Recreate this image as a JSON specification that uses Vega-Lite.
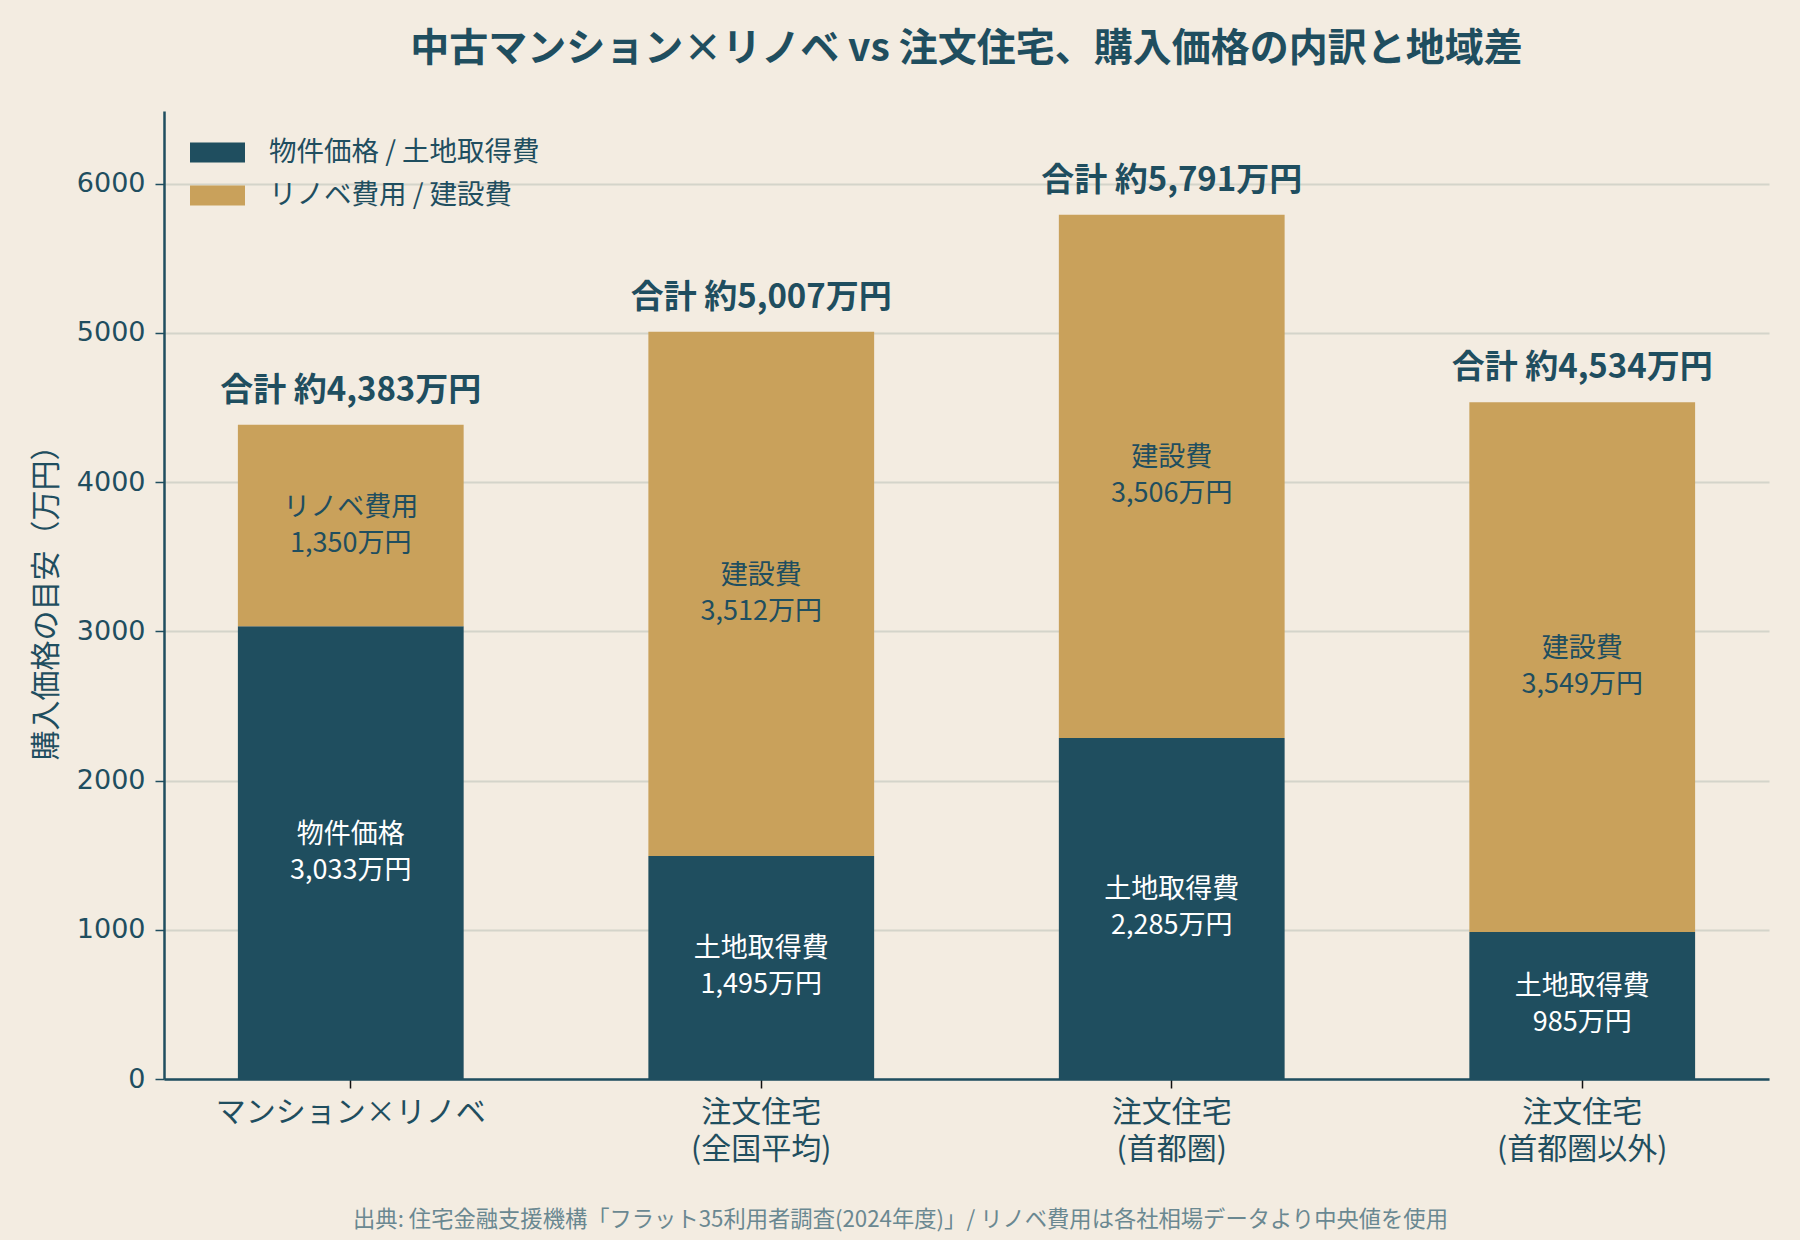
{
  "$schema": "https://vega.github.io/schema/vega-lite/v6.json",
  "width": 1605,
  "height": 968,
  "autosize": {"type": "none"},
  "padding": {"left": 164, "top": 111, "right": 31, "bottom": 161},
  "background": "#f3ece1",
  "title": {
    "text": "中古マンション×リノベ vs 注文住宅、購入価格の内訳と地域差",
    "anchor": "middle",
    "frame": "group",
    "font": "Noto Sans CJK JP",
    "fontSize": 39,
    "fontWeight": "bold",
    "color": "#1f4e5f",
    "offset": 42
  },
  "config": {
    "view": {"stroke": null},
    "font": "Noto Sans CJK JP"
  },
  "data": {
    "values": [
      {"cat": "マンション×リノベ", "type": "物件価格 / 土地取得費", "part": "物件価格", "value": 3033, "order": 1},
      {"cat": "マンション×リノベ", "type": "リノベ費用 / 建設費", "part": "リノベ費用", "value": 1350, "order": 2},
      {"cat": "注文住宅\n(全国平均)", "type": "物件価格 / 土地取得費", "part": "土地取得費", "value": 1495, "order": 1},
      {"cat": "注文住宅\n(全国平均)", "type": "リノベ費用 / 建設費", "part": "建設費", "value": 3512, "order": 2},
      {"cat": "注文住宅\n(首都圏)", "type": "物件価格 / 土地取得費", "part": "土地取得費", "value": 2285, "order": 1},
      {"cat": "注文住宅\n(首都圏)", "type": "リノベ費用 / 建設費", "part": "建設費", "value": 3506, "order": 2},
      {"cat": "注文住宅\n(首都圏以外)", "type": "物件価格 / 土地取得費", "part": "土地取得費", "value": 985, "order": 1},
      {"cat": "注文住宅\n(首都圏以外)", "type": "リノベ費用 / 建設費", "part": "建設費", "value": 3549, "order": 2}
    ]
  },
  "transform": [
    {"stack": "value", "groupby": ["cat"], "sort": [{"field": "order"}], "as": ["y0", "y1"]},
    {"calculate": "(datum.y0 + datum.y1) / 2", "as": "mid"},
    {"calculate": "format(datum.value, ',') + '万円'", "as": "vlabel"},
    {"calculate": "'合計 約' + format(datum.y1, ',') + '万円'", "as": "tlabel"}
  ],
  "encoding": {
    "x": {
      "field": "cat",
      "type": "nominal",
      "sort": ["マンション×リノベ", "注文住宅\n(全国平均)", "注文住宅\n(首都圏)", "注文住宅\n(首都圏以外)"],
      "scale": {"paddingInner": 0.45, "paddingOuter": 0.18},
      "axis": {
        "title": "出典: 住宅金融支援機構「フラット35利用者調査(2024年度)」/ リノベ費用は各社相場データより中央値を使用",
        "titleFont": "Noto Sans CJK JP",
        "titleFontSize": 22.3,
        "titleFontWeight": "normal",
        "titleColor": "#6a8891",
        "titleX": 736,
        "titleY": 140,
        "titleAlign": "center",
        "titleAnchor": null,
        "titleBaseline": "middle",
        "titleLimit": 0,
        "labelAngle": 0,
        "labelLimit": 0,
        "labelExpr": "split(datum.label, '\\n')",
        "labelFont": "Noto Sans CJK JP",
        "labelFontSize": 30,
        "labelLineHeight": 37,
        "labelColor": "#1f4e5f",
        "labelPadding": 9,
        "labelBaseline": "top",
        "tickSize": 9,
        "tickColor": "#111111",
        "tickWidth": 1.5,
        "domainColor": "#1f4e5f",
        "domainWidth": 2.5,
        "grid": false
      }
    }
  },
  "layer": [
    {
      "mark": {"type": "bar"},
      "encoding": {
        "y": {
          "field": "y1",
          "type": "quantitative",
          "scale": {"domain": [0, 6486], "nice": false},
          "axis": {
            "title": "購入価格の目安（万円）",
            "titleFont": "Noto Sans CJK JP",
            "titleFontSize": 30,
            "titleFontWeight": "normal",
            "titleColor": "#1f4e5f",
            "titlePadding": 15,
            "values": [0, 1000, 2000, 3000, 4000, 5000, 6000],
            "format": "d",
            "labelFont": "DejaVu Sans",
            "labelFontSize": 27,
            "labelColor": "#1f4e5f",
            "labelPadding": 10,
            "tickSize": 9,
            "tickColor": "#1f4e5f",
            "tickWidth": 1.5,
            "domainColor": "#1f4e5f",
            "domainWidth": 2.5,
            "grid": true,
            "gridColor": "#d4d4ca",
            "gridWidth": 1.8
          }
        },
        "y2": {"field": "y0"},
        "color": {
          "field": "type",
          "type": "nominal",
          "scale": {
            "domain": ["物件価格 / 土地取得費", "リノベ費用 / 建設費"],
            "range": ["#1f4e5f", "#c9a15b"]
          },
          "legend": {
            "title": null,
            "orient": "none",
            "legendX": 26,
            "legendY": 14,
            "padding": 0,
            "symbolType": "M-1,-0.364H1V0.364H-1Z",
            "symbolSize": 3025,
            "symbolStrokeWidth": 0,
            "symbolOpacity": 1,
            "labelFont": "Noto Sans CJK JP",
            "labelFontSize": 27.5,
            "labelColor": "#1f4e5f",
            "labelOffset": 24,
            "labelLimit": 0,
            "rowPadding": 2
          }
        }
      }
    },
    {
      "mark": {"type": "text", "font": "Noto Sans CJK JP", "fontSize": 27, "baseline": "middle", "dy": -18},
      "encoding": {
        "y": {"field": "mid", "type": "quantitative"},
        "text": {"field": "part"},
        "color": {"condition": {"test": "datum.order == 1", "value": "#ffffff"}, "value": "#1f4e5f"}
      }
    },
    {
      "mark": {"type": "text", "font": "Noto Sans CJK JP", "fontSize": 27, "baseline": "middle", "dy": 18},
      "encoding": {
        "y": {"field": "mid", "type": "quantitative"},
        "text": {"field": "vlabel"},
        "color": {"condition": {"test": "datum.order == 1", "value": "#ffffff"}, "value": "#1f4e5f"}
      }
    },
    {
      "transform": [{"filter": "datum.order == 2"}],
      "mark": {"type": "text", "font": "Noto Sans CJK JP", "fontSize": 33, "fontWeight": "bold", "baseline": "alphabetic", "dy": -24, "color": "#1f4e5f"},
      "encoding": {
        "y": {"field": "y1", "type": "quantitative"},
        "text": {"field": "tlabel"}
      }
    }
  ]
}
